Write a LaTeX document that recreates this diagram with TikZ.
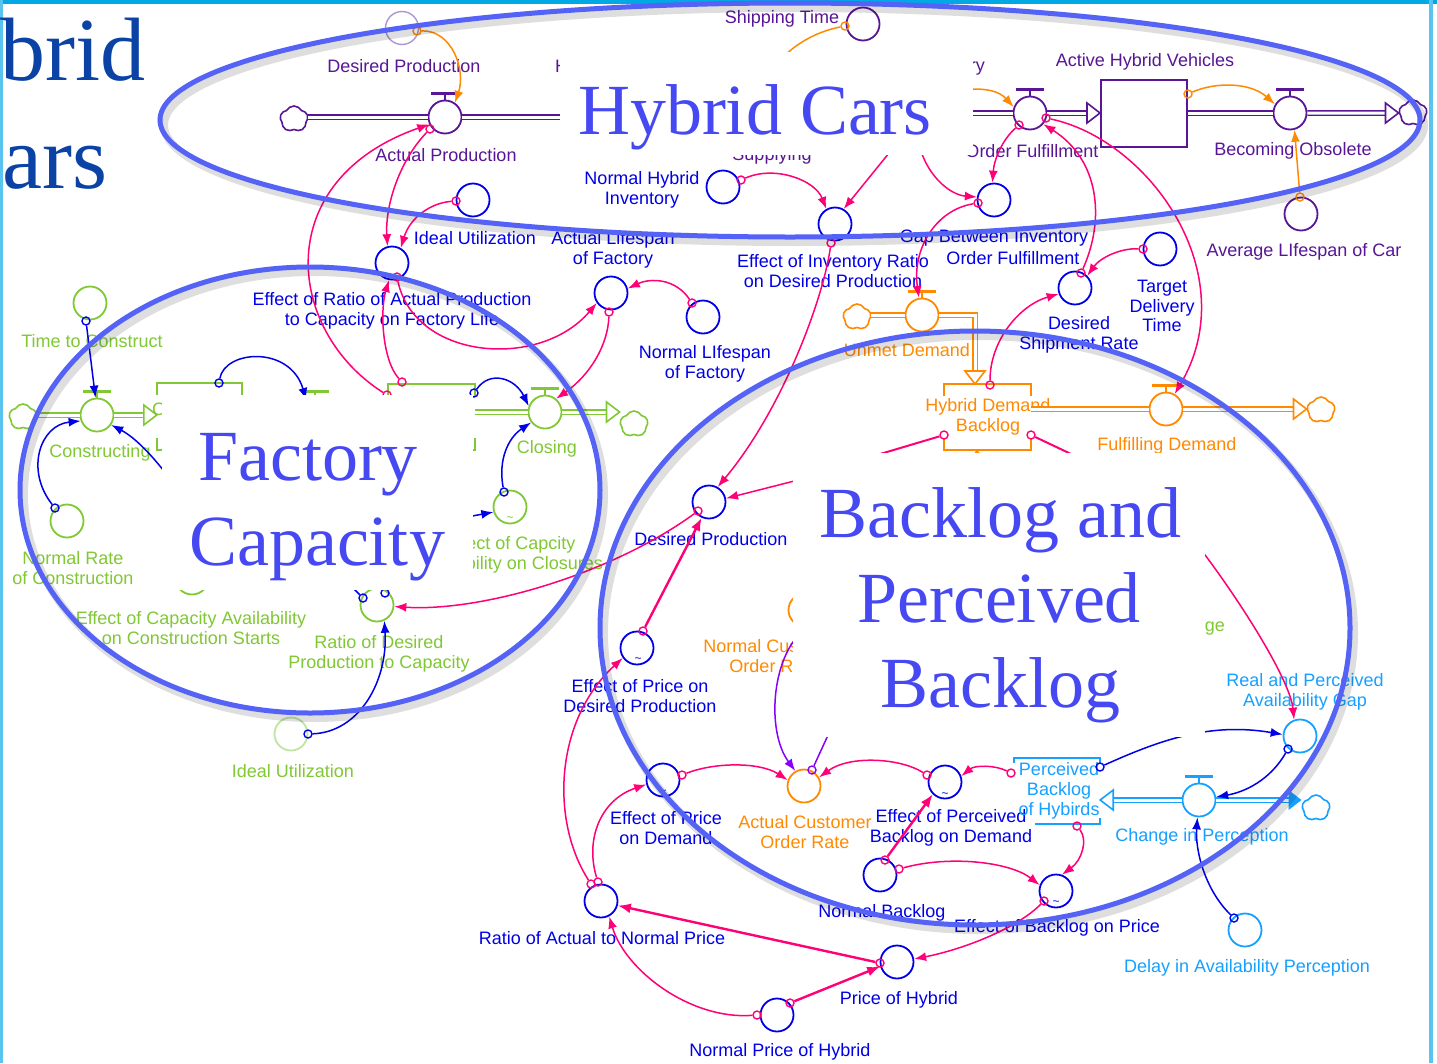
\documentclass[tikz,border=0pt]{standalone}
\usepackage{fontspec}
\setmainfont{Liberation Serif}
\newfontfamily\labfont{Liberation Sans}
\usetikzlibrary{arrows.meta,shapes.symbols}

% palette
\definecolor{pur}{RGB}{88,22,150}
\definecolor{lav}{RGB}{172,150,212}
\definecolor{org}{RGB}{255,138,0}
\definecolor{pnk}{RGB}{255,0,118}
\definecolor{blu}{RGB}{0,0,232}
\definecolor{grn}{RGB}{128,200,52}
\definecolor{lgrn}{RGB}{192,228,162}
\definecolor{lbl}{RGB}{22,160,255}
\definecolor{vio}{RGB}{135,0,255}
\definecolor{elc}{RGB}{84,98,246}
\definecolor{ttl}{RGB}{70,72,242}
\definecolor{dkb}{RGB}{10,66,166}
\definecolor{frm}{RGB}{0,168,228}
\definecolor{frml}{RGB}{90,196,240}

\newcommand\labsize{\labfont\fontsize{18}{19.8}\selectfont}
\newcommand\ttlsize{\fontsize{72}{72}\selectfont}
% handle drawn on top of a flow valve
\newcommand\valvebar[2]{%
  \draw[#2, line width=2.3pt] ([xshift=-14pt,yshift=6pt]#1.north) -- ([xshift=14pt,yshift=6pt]#1.north);%
  \draw[#2, line width=1.2pt] ([yshift=6pt]#1.north) -- (#1.north);}

\begin{document}
\begin{tikzpicture}[x=1pt, y=-1pt,
  aux/.style={circle, draw, line width=1.8pt, minimum size=33pt, inner sep=0pt, fill=white},
  tl/.style={circle, draw, line width=1.4pt, minimum size=8pt, inner sep=0pt},
  lab/.style={font=\labsize, align=center, inner sep=0pt},
  cn/.style={line width=1.5pt, -{Latex[length=12pt,width=9pt]}},
  cnk/.style={line width=2.4pt, -{Latex[length=13pt,width=10pt]}},
  pipe/.style={double=white, double distance=3pt, line width=1.3pt},
  cloudn/.style={cloud, cloud puffs=5, cloud puff arc=125, aspect=1.1, draw, line width=1.6pt,
                 fill=white, minimum width=28pt, minimum height=26pt, inner sep=0pt},
  stockn/.style={minimum width=87pt, minimum height=66pt, inner sep=0pt},
  brk/.style={line width=1.8pt},
  tld/.style={font=\labfont\fontsize{12}{12}\selectfont, inner sep=0pt},
  ttlt/.style={anchor=base, inner sep=0pt, text=ttl, font=\ttlsize},
  pipehead/.pic={\draw[line width=1.6pt, fill=white, line join=miter] (0,0) -- (-13,-10) -- (-13,10) -- cycle;},
  pipeheadf/.pic={\fill (0,0) -- (-13,-10) -- (-13,10) -- cycle;}
]
\useasboundingbox (0,0) rectangle (1437,1063);
\fill[white] (0,0) rectangle (1437,1063);
% slide frame
\fill[frm] (0,0) rectangle (1437,4);
\fill[frml] (0,0) rectangle (2.5,1063);
\fill[frml] (1429,0) rectangle (1433,1063);
% slide heading, running off the left edge
\node[anchor=base west, inner sep=0pt, text=dkb, font=\fontsize{90}{90}\selectfont] (slideA) at (0,80) {brid};
\node[anchor=base west, inner sep=0pt, text=dkb, font=\fontsize{90}{90}\selectfont] (slideB) at (2,188) {ars};

% ================= variables and valves =================
% hybrid car chain
\node[aux, draw=lav, line width=1.4pt] (dpT) at (402,28) {};
\node[aux, draw=pur] (vAP) at (445,117) {};
\node[aux, draw=pur] (st) at (863,24) {};
\node[aux, draw=pur] (vOF) at (1030,113) {};
\node[aux, draw=pur] (vBO) at (1290,113) {};
\node[aux, draw=pur] (alc) at (1301,214) {};
\node[draw=pur, line width=2pt, minimum width=86pt, minimum height=67pt, inner sep=0pt, fill=white] (AHV) at (1144,113) {};
\node[cloudn, draw=pur] (cAP) at (294,119) {};
\node[cloudn, draw=pur] (cBO) at (1413,113) {};
% inventory and lifespan variables
\node[aux, draw=blu] (nhi) at (723,187) {};
\node[aux, draw=blu] (eir) at (835,224) {};
\node[aux, draw=blu] (iuT) at (473,200) {};
\node[aux, draw=blu] (effR) at (392,263) {};
\node[aux, draw=blu] (alf) at (611,293) {};
\node[aux, draw=blu] (nlf) at (703,317) {};
\node[aux, draw=blu] (gap) at (994,200) {};
\node[aux, draw=blu] (dsr) at (1075,288) {};
\node[aux, draw=blu] (tdt) at (1160,249) {};
% demand backlog chain
\node[aux, draw=org] (vUD) at (922,315) {};
\node[aux, draw=org] (vFD) at (1166,409) {};
\node[cloudn, draw=org] (cUD) at (857,317) {};
\node[cloudn, draw=org] (cFD) at (1321,410) {};
\node[stockn] (HDB) at (987.5,417) {};
% factory capacity
\node[aux, draw=grn] (ttc) at (90,303) {};
\node[aux, draw=grn] (vCon) at (97,415) {};
\node[aux, draw=grn] (nrc) at (67,521) {};
\node[aux, draw=grn] (vMid) at (315,415) {};
\node[aux, draw=grn] (vCl) at (545,412) {};
\node[aux, draw=grn] (ecc) at (510,507) {};
\node[aux, draw=grn] (eca) at (192,578) {};
\node[aux, draw=grn] (rdc) at (377,605) {};
\node[aux, draw=lgrn] (iuB) at (291,734) {};
\node[cloudn, draw=grn] (cCon) at (23,417) {};
\node[cloudn, draw=grn] (cCl) at (634,424) {};
\node[stockn, minimum width=85pt, minimum height=67pt] (capL) at (199.5,416.5) {};
\node[stockn] (capR) at (431.5,417) {};
% price and perceived backlog
\node[aux, draw=blu] (dpB) at (709,502) {};
\node[aux, draw=blu] (epdp) at (637,648) {};
\node[aux, draw=org] (ncor) at (805,610) {};
\node[aux, draw=org] (acor) at (804,786) {};
\node[aux, draw=blu] (epd) at (663,780) {};
\node[aux, draw=blu] (epbd) at (945,782) {};
\node[aux, draw=blu] (nb) at (880,875) {};
\node[aux, draw=blu] (ebp) at (1056,891) {};
\node[aux, draw=blu] (poh) at (897,962) {};
\node[aux, draw=blu] (nph) at (777,1015) {};
\node[aux, draw=blu] (ranp) at (601,901) {};
\node[aux, draw=lbl] (rpag) at (1300,736) {};
\node[aux, draw=lbl] (vCP) at (1199,800) {};
\node[aux, draw=lbl] (dap) at (1245,930) {};
\node[cloudn, draw=lbl] (cCP) at (1316,808) {};
\node[minimum width=86pt, minimum height=66pt, inner sep=0pt] (pb) at (1057,791) {};

% lookup marks
\node[tld, text=grn] (tiA) at (510,519) {\textasciitilde};
\node[tld, text=blu] (tiB) at (638,660) {\textasciitilde};
\node[tld, text=blu] (tiC) at (663,792) {\textasciitilde};
\node[tld, text=blu] (tiD) at (945,795) {\textasciitilde};
\node[tld, text=blu] (tiE) at (1056,903) {\textasciitilde};

% ================= labels =================
\node[lab, text=pur] (dpTl) at (404,66) {Desired Production};
\node[lab, text=pur] (vAPl) at (446,155) {Actual Production};
\node[lab, text=pur, anchor=base] (supl) at (772,160) {Supplying};
\node[lab, text=pur, anchor=base west] (hFrag) at (555,72) {H};
\node[lab, text=pur, anchor=base east] (ryFrag) at (985,71) {ry};
\node[lab, text=pur] (stl) at (782,19) {Shipping Time};
\node[lab, text=pur] (AHVl) at (1145,62) {Active Hybrid Vehicles};
\node[lab, text=pur] (vOFl) at (1032,151) {Order Fulfillment};
\node[lab, text=pur] (vBOl) at (1293,151) {Becoming Obsolete};
\node[lab, text=pur] (alcl) at (1304,252) {Average LIfespan of Car};
\node[lab, text=blu] (nhil) at (642,190) {Normal Hybrid\\Inventory};
\node[lab, text=blu] (eirl) at (833,271) {Effect of Inventory Ratio\\on Desired Production};
\node[lab, text=blu] (iuTl) at (475,238) {Ideal Utilization};
\node[lab, text=blu] (effRl) at (392,311) {Effect of Ratio of Actual Production\\to Capacity on Factory Life};
\node[lab, text=blu] (alfl) at (613,250) {Actual Lifespan\\of Factory};
\node[lab, text=blu] (nlfl) at (705,364) {Normal LIfespan\\of Factory};
\node[lab, text=blu] (gapla) at (994,238) {Gap Between Inventory};
\node[lab, text=blu] (gaplb) at (1013,258) {Order Fulfillment};
\node[lab, text=blu] (dsrl) at (1079,335) {Desired\\Shipment Rate};
\node[lab, text=blu] (tdtl) at (1162,306) {Target\\Delivery\\Time};
\node[lab, text=org] (vUDl) at (907,350) {Unmet Demand};
\node[lab, text=org] (HDBl) at (988,417) {Hybrid Demand\\Backlog};
\node[lab, text=org] (vFDl) at (1167,446) {Fulfilling Demand};
\node[lab, text=grn] (ttcl) at (92,341) {Time to Construct};
\node[lab, text=grn] (vConl) at (100,453) {Constructing};
\node[lab, text=grn] (nrcl) at (73,568) {Normal Rate\\of Construction};
\node[lab, text=grn, anchor=base west] (cFrag) at (152,415) {C};
\node[lab, text=grn] (vCll) at (547,449) {Closing};
\node[lab, text=grn] (eccl) at (510,555) {Effect of Capcity\\Availability on Closures};
\node[lab, text=grn] (ecal) at (191,628) {Effect of Capacity Availability\\on Construction Starts};
\node[lab, text=grn] (rdcl) at (379,654) {Ratio of Desired\\Production to Capacity};
\node[lab, text=grn] (iuBl) at (293,771) {Ideal Utilization};
\node[lab, text=blu] (dpBl) at (711,539) {Desired Production};
\node[lab, text=blu] (epdpl) at (640,696) {Effect of Price on\\Desired Production};
\node[lab, text=org] (ncorl) at (774,656) {Normal Customer\\Order Rate};
\node[lab, text=grn, anchor=base east] (geFrag) at (1225,631) {ge};
\node[lab, text=org] (acorl) at (805,832) {Actual Customer\\Order Rate};
\node[lab, text=blu] (epdl) at (666,828) {Effect of Price\\on Demand};
\node[lab, text=blu] (epbdl) at (951,828) {Effect of Perceived\\Backlog on Demand};
\node[lab, text=lbl] (pbl) at (1059,791) {Perceived\\Backlog\\of Hybirds};
\node[lab, text=lbl] (rpagl) at (1305,692) {Real and Perceived\\Availability Gap};
\node[lab, text=lbl] (vCPl) at (1202,837) {Change in Perception};
\node[lab, text=lbl] (dapl) at (1247,968) {Delay in Availability Perception};
\node[lab, text=blu] (nbl) at (882,913) {Normal Backlog};
\node[lab, text=blu] (ebpl) at (1057,928) {Effect of Backlog on Price};
\node[lab, text=blu] (ranpl) at (602,938) {Ratio of Actual to Normal Price};
\node[lab, text=blu] (pohl) at (899,1000) {Price of Hybrid};
\node[lab, text=blu] (nphl) at (780,1052) {Normal Price of Hybrid};

% ================= free ends behind the title panels =================
\coordinate (hAPo) at (600,117);
\coordinate (hOFi) at (940,113);
\coordinate (hST) at (775,66);
\coordinate (hEIR) at (902,137);
\coordinate (hGap) at (918,140);
\coordinate (hOFo) at (950,92);
\coordinate (hCon) at (185,500);
\coordinate (hECC) at (440,522);
\coordinate (hRDCa) at (335,570);
\coordinate (hRDCb) at (380,565);
\coordinate (hHDBa) at (860,460);
\coordinate (hHDBb) at (1090,463);
\coordinate (hDPB) at (810,477);
\coordinate (hRPAG) at (1196,543);
\coordinate (hACOR) at (835,720);
\coordinate (hdbIn) at (977,520);
\coordinate (hdbT) at (977,451);
\coordinate (udK) at (975,315);
\coordinate (udT) at (975,384);

% ================= pipes =================
\draw[pipe, pur] (cAP.east |- vAP.center) -- (vAP.west);
\draw[pipe, pur] (vAP.east) -- (hAPo);
\draw[pipe, pur] (hOFi) -- (vOF.west);
\draw[pipe, pur] (vOF.east) -- ([xshift=-12pt]AHV.west);
\pic[color=pur] at (AHV.west) {pipehead};
\draw[pipe, pur] (AHV.east) -- (vBO.west);
\draw[pipe, pur] (vBO.east) -- ([xshift=-12pt]cBO.west);
\pic[color=pur] at (cBO.west) {pipehead};
\draw[pipe, org] (cUD.east |- vUD.center) -- (vUD.west);
\draw[pipe, org] (vUD.east) -- (udK) -- ([yshift=12pt]udT);
\pic[color=org, rotate=-90] at (udT) {pipehead};
\draw[pipe, org] (hdbIn) -- ([yshift=-12pt]hdbT);
\pic[color=org, rotate=90] at (hdbT) {pipehead};
\draw[pipe, org] (HDB.east |- vFD.center) -- (vFD.west);
\draw[pipe, org] (vFD.east) -- ([xshift=-12pt]cFD.west |- vFD.center);
\pic[color=org] at (cFD.west |- vFD.center) {pipehead};
\draw[pipe, grn] (cCon.east |- vCon.center) -- (vCon.west);
\draw[pipe, grn] (vCon.east) -- ([xshift=-12pt]capL.west |- vCon.center);
\pic[color=grn] at (capL.west |- vCon.center) {pipehead};
\draw[pipe, grn] (capL.east |- vMid.center) -- (vMid.west);
\draw[pipe, grn] (vMid.east) -- ([xshift=-12pt]capR.west |- vMid.center);
\pic[color=grn] at (capR.west |- vMid.center) {pipehead};
\draw[pipe, grn] (capR.east |- vCl.center) -- (vCl.west);
\draw[pipe, grn] (vCl.east) -- ([xshift=-12pt]cCl.west |- vCl.center);
\pic[color=grn] at (cCl.west |- vCl.center) {pipehead};
\draw[pipe, lbl] (vCP.west) -- ([xshift=12pt]pb.east |- vCP.center);
\pic[color=lbl, rotate=180] at (pb.east |- vCP.center) {pipehead};
\draw[pipe, lbl] (vCP.east) -- ([xshift=-12pt]cCP.west |- vCP.center);
\pic[color=lbl] at (cCP.west |- vCP.center) {pipeheadf};

% valve handles
\valvebar{vAP}{pur}
\valvebar{vOF}{pur}
\valvebar{vBO}{pur}
\valvebar{vUD}{org}
\valvebar{vFD}{org}
\valvebar{vCon}{grn}
\valvebar{vMid}{grn}
\valvebar{vCl}{grn}
\valvebar{vCP}{lbl}

% stock outlines (labels sit across the side walls)
\draw[org, brk] ([yshift=-12pt]HDB.north west) -- (HDB.north west) -- (HDB.north east) -- ([yshift=-12pt]HDB.north east);
\draw[org, brk] ([yshift=12pt]HDB.south west) -- (HDB.south west) -- (HDB.south east) -- ([yshift=12pt]HDB.south east);
\draw[grn, brk] ([yshift=-12pt]capL.north west) -- (capL.north west) -- (capL.north east) -- ([yshift=-12pt]capL.north east);
\draw[grn, brk] ([yshift=12pt]capL.south west) -- (capL.south west) -- (capL.south east) -- ([yshift=12pt]capL.south east);
\draw[grn, brk] ([yshift=-12pt]capR.north west) -- (capR.north west) -- (capR.north east) -- ([yshift=-12pt]capR.north east);
\draw[grn, brk] ([yshift=12pt]capR.south west) -- (capR.south west) -- (capR.south east) -- ([yshift=12pt]capR.south east);
\draw[lbl, brk] ([yshift=-5pt]pb.north west) -- (pb.north west) -- (pb.north east) -- ([yshift=-5pt]pb.north east);
\draw[lbl, brk] ([xshift=21pt]pb.south west) -- (pb.south east) -- ([yshift=6pt]pb.south east);

% ================= connector tails =================
\node[tl, draw=org] (tDp) at (417,31) {};
\node[tl, draw=pnk] (tAP) at (430,129) {};
\node[tl, draw=pnk] (tIU) at (456,201) {};
\node[tl, draw=pnk] (tEffR) at (397,277) {};
\node[tl, draw=pnk] (tCapA) at (402,382) {};
\node[tl, draw=pnk] (tCapB) at (387,395) {};
\node[tl, draw=pnk] (tALF) at (609,312) {};
\node[tl, draw=pnk] (tNLF) at (692,303) {};
\node[tl, draw=pnk] (tNHI) at (741,180) {};
\node[tl, draw=pnk] (tEIR) at (831,243) {};
\node[tl, draw=org] (tST) at (845,26) {};
\node[tl, draw=pnk] (tOFa) at (1019,125) {};
\node[tl, draw=pnk] (tOFb) at (1046,118) {};
\node[tl, draw=pnk] (tGap) at (978,203) {};
\node[tl, draw=pnk] (tDSR) at (1081,273) {};
\node[tl, draw=pnk] (tTDT) at (1143,249) {};
\node[tl, draw=org] (tAHV) at (1188,94) {};
\node[tl, draw=org] (tALC) at (1300,197) {};
\node[tl, draw=pnk] (tHDBa) at (990,385) {};
\node[tl, draw=pnk] (tHDBb) at (944,435) {};
\node[tl, draw=pnk] (tHDBc) at (1031,435) {};
\node[tl, draw=blu] (tTTC) at (86,321) {};
\node[tl, draw=blu] (tNRC) at (55,508) {};
\node[tl, draw=blu] (tCapL) at (219,383) {};
\node[tl, draw=blu] (tCapR) at (474,393) {};
\node[tl, draw=blu] (tECC) at (504,492) {};
\node[tl, draw=blu] (tRDCa) at (363,598) {};
\node[tl, draw=blu] (tRDCb) at (385,593) {};
\node[tl, draw=blu] (tIUB) at (308,734) {};
\node[tl, draw=pnk] (tDPB) at (698,511) {};
\node[tl, draw=pnk] (tEPDP) at (643,631) {};
\node[tl, draw=pnk] (tRANPa) at (591,884) {};
\node[tl, draw=pnk] (tRANPb) at (598,882) {};
\node[tl, draw=pnk] (tEPD) at (682,775) {};
\node[tl, draw=vio] (tACOR) at (812,770) {};
\node[tl, draw=pnk] (tEPBD) at (927,775) {};
\node[tl, draw=pnk] (tPBa) at (1011,773) {};
\node[tl, draw=blu] (tPBb) at (1100,767) {};
\node[tl, draw=pnk] (tPBc) at (1077,826) {};
\node[tl, draw=pnk] (tNBa) at (885,860) {};
\node[tl, draw=pnk] (tNBb) at (899,869) {};
\node[tl, draw=pnk] (tEBP) at (1044,901) {};
\node[tl, draw=pnk] (tPOH) at (880,963) {};
\node[tl, draw=pnk] (tNPHa) at (790,1003) {};
\node[tl, draw=pnk] (tNPHb) at (757,1015) {};
\node[tl, draw=blu] (tRPAG) at (1288,749) {};
\node[tl, draw=blu] (tDAP) at (1234,918) {};

% ================= connectors =================
% hybrid cars
\draw[cn, org] (tDp) .. controls (452,30) and (466,70) .. (vAP.55);
\draw[cn, pnk] (tAP) .. controls (400,160) and (385,205) .. (effR.105);
\draw[cn, pnk] (tCapB) .. controls (285,330) and (270,180) .. (vAP.205);
\draw[cn, pnk] (tCapA) .. controls (382,360) and (380,310) .. (effR.-100);
\draw[cn, pnk] (tIU) .. controls (430,203) and (410,218) .. (effR.60);
\draw[cn, pnk] (tEffR) .. controls (415,360) and (540,370) .. (alf.215);
\draw[cn, pnk] (tNLF) .. controls (675,278) and (650,278) .. (alf.15);
\draw[cn, pnk] (tALF) .. controls (608,345) and (590,375) .. (vCl.50);
\draw[cn, pnk] (tNHI) .. controls (775,165) and (815,180) .. (eir.120);
\draw[cn, pnk] (hEIR) -- (eir.60);
\draw[cn, pnk] (tEIR) .. controls (823,300) and (782,410) .. (dpB.60);
\draw[org, line width=1.5pt] (tST) .. controls (815,32) and (792,45) .. (hST);
\draw[cn, org] (hOFo) .. controls (985,85) and (1000,92) .. (vOF.160);
\draw[cn, pnk] (tOFa) .. controls (1002,140) and (994,160) .. (gap.95);
\draw[cn, pnk] (hGap) .. controls (925,175) and (950,195) .. (gap.170);
\draw[cn, pnk] (tGap) .. controls (935,210) and (912,250) .. (vUD.100);
\draw[cn, pnk] (tOFb) .. controls (1150,140) and (1245,275) .. (vFD.60);
\draw[cn, pnk] (tDSR) .. controls (1105,220) and (1100,160) .. (vOF.-40);
\draw[cn, pnk] (tTDT) .. controls (1120,248) and (1100,258) .. (dsr.45);
\draw[cn, pnk] (tHDBa) .. controls (990,340) and (1020,305) .. (dsr.200);
\draw[cn, org] (tAHV) .. controls (1215,82) and (1250,82) .. (vBO.150);
\draw[cn, org] (tALC) -- (vBO.-75);
\draw[pnk, line width=2pt] (tHDBb) -- (hHDBa);
\draw[pnk, line width=2pt] (tHDBc) -- (hHDBb);
% factory capacity
\draw[cn, blu] (tTTC) -- (vCon.95);
\draw[cn, blu] (tNRC) .. controls (25,470) and (40,425) .. (vCon.200);
\draw[cn, blu] (hCon) .. controls (165,470) and (140,440) .. (vCon.-35);
\draw[cn, blu] (tCapL) .. controls (225,350) and (290,345) .. (vMid.120);
\draw[cn, blu] (tCapR) .. controls (490,370) and (515,378) .. (vCl.160);
\draw[cn, blu] (tECC) .. controls (498,460) and (508,438) .. (vCl.217);
\draw[cn, blu] (hECC) -- (ecc.197);
\draw[blu, line width=1.5pt] (tRDCa) -- (hRDCa);
\draw[blu, line width=1.5pt] (tRDCb) -- (hRDCb);
\draw[cn, blu] (tIUB) .. controls (360,732) and (388,680) .. (rdc.-65);
\draw[cn, pnk] (tDPB) .. controls (610,575) and (480,612) .. (rdc.-5);
% backlog and price
\draw[cn, pnk] (hDPB) -- (dpB.12);
\draw[cnk, pnk] (tEPDP) -- (dpB.-115);
\draw[cn, pnk] (tRANPa) .. controls (550,820) and (555,720) .. (epdp.215);
\draw[cn, pnk] (tRANPb) .. controls (585,840) and (600,800) .. (epd.195);
\draw[cn, pnk] (tEPD) .. controls (715,762) and (760,762) .. (acor.160);
\draw[cn, vio] (ncor.-80) .. controls (772,650) and (765,730) .. (acor.120);
\draw[vio, line width=1.5pt] (tACOR) -- (hACOR);
\draw[cn, pnk] (tEPBD) .. controls (900,758) and (850,755) .. (acor.30);
\draw[cn, pnk] (tPBa) .. controls (995,765) and (975,765) .. (epbd.20);
\draw[cnk, pnk] (tNBa) -- (epbd.225);
\draw[cn, pnk] (tNBb) .. controls (950,855) and (1010,862) .. (ebp.160);
\draw[cn, pnk] (tPBc) .. controls (1088,840) and (1082,860) .. (ebp.70);
\draw[cn, pnk] (tEBP) .. controls (1015,930) and (960,950) .. (poh.10);
\draw[cnk, pnk] (tPOH) -- (ranp.-15);
\draw[cnk, pnk] (tNPHa) -- (poh.195);
\draw[cn, pnk] (tNPHb) .. controls (690,1020) and (625,970) .. (ranp.-62);
\draw[cn, blu] (tPBb) .. controls (1160,740) and (1210,722) .. (rpag.175);
\draw[cn, pnk] (hRPAG) .. controls (1240,600) and (1290,680) .. (rpag.110);
\draw[cn, blu] (tRPAG) .. controls (1270,780) and (1245,792) .. (vCP.10);
\draw[cn, blu] (tDAP) .. controls (1205,890) and (1195,850) .. (vCP.-95);

% ================= sector title panels =================
\fill[white] (560,52) rectangle (973,155);
\node[ttlt] (tHy) at (755,134) {Hybrid Cars};
\fill[white] (162,395) rectangle (473,590);
\node[ttlt] (tFa) at (308,480) {Factory};
\node[ttlt] (tCa) at (317,565) {Capacity};
\fill[white] (793,453) rectangle (1205,737);
\node[ttlt] (tBa) at (1000,537) {Backlog and};
\node[ttlt] (tPe) at (999,622) {Perceived};
\node[ttlt] (tBl) at (1000,707) {Backlog};

% ================= sector boundaries =================
\draw[black, opacity=.13, line width=8pt] (794,125) ellipse [x radius=630, y radius=117];
\draw[elc, line width=5pt] (790,120) ellipse [x radius=630, y radius=117];
\draw[black, opacity=.13, line width=8pt] (314,495) ellipse [x radius=290, y radius=223];
\draw[elc, line width=5pt] (310,490) ellipse [x radius=290, y radius=223];
\draw[black, opacity=.13, line width=8pt] (979,633) ellipse [x radius=375, y radius=297];
\draw[elc, line width=5pt] (975,628) ellipse [x radius=375, y radius=297];
\end{tikzpicture}
\end{document}
